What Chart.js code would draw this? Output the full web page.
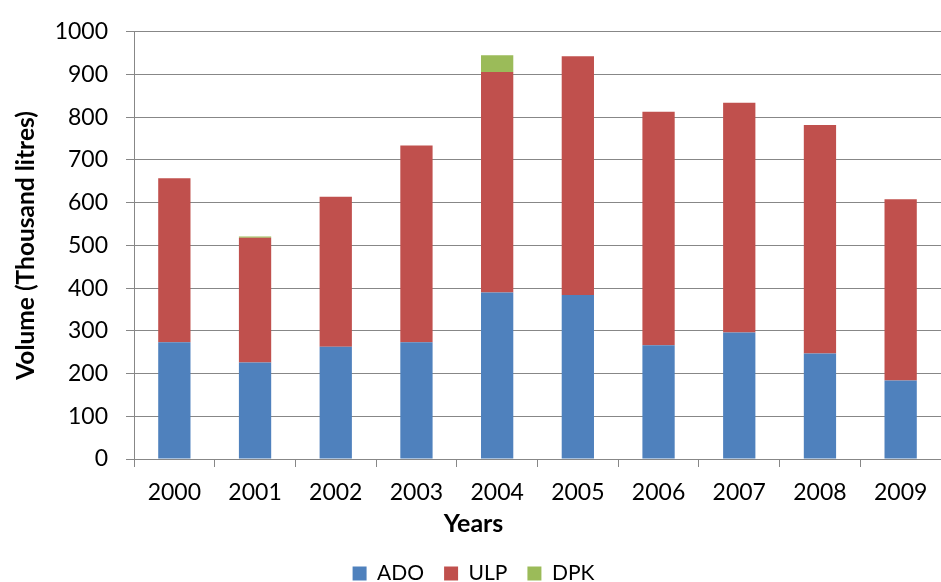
<!DOCTYPE html>
<html>
<head>
<meta charset="utf-8">
<script src="https://cdn.jsdelivr.net/npm/chart.js@4"></script>
<style>
  html, body { margin: 0; padding: 0; background: #ffffff; overflow: hidden; }
  #wrap { width: 941px; height: 582px; }
</style>
</head>
<body>
<div id="wrap"><canvas id="fuelChart" width="941" height="582"></canvas></div>
<script>
// Fuel sales volume by product type (thousand litres)
const years = ['2000', '2001', '2002', '2003', '2004', '2005', '2006', '2007', '2008', '2009'];
const ado = [273, 226, 263, 273, 390, 384, 266, 296, 247, 184];
const ulp = [384, 292, 351, 461, 516, 559, 547, 538, 535, 424];
const dpk = [0, 3, 0, 0, 39, 0, 0, 0, 0, 0];
const seriesNames = ['ADO', 'ULP', 'DPK'];
const seriesColors = ['#4F81BD', '#C0504D', '#9BBB59'];
const yMin = 0, yMax = 1000, yStep = 100;

const FONT = 'Lato, "Liberation Sans", sans-serif';
const AXIS_GREY = '#878787';

const datasets = [ado, ulp, dpk].map((values, i) => ({
  label: seriesNames[i],
  data: values,
  backgroundColor: seriesColors[i],
  borderWidth: 0,
  barPercentage: 0.4,
  categoryPercentage: 1.0
}));

new Chart(document.getElementById('fuelChart'), {
  type: 'bar',
  data: { labels: years, datasets },
  options: {
    responsive: false,
    animation: false,
    devicePixelRatio: 1,
    layout: { padding: { top: 18, right: -6, bottom: -12, left: 0 } },
    scales: {
      x: {
        stacked: true,
        grid: { drawOnChartArea: false, drawTicks: true, tickLength: 8, color: AXIS_GREY, offset: true },
        border: { display: true, color: AXIS_GREY, width: 1 },
        ticks: { color: '#000', font: { family: FONT, size: 23 }, padding: 12 },
        afterFit: (scale) => { scale.height = 49; }
      },
      y: {
        stacked: true,
        min: yMin,
        max: yMax,
        ticks: {
          stepSize: yStep,
          color: '#000',
          font: { family: FONT, size: 23 },
          padding: 18,
          callback: (v) => String(v)
        },
        grid: { color: AXIS_GREY, lineWidth: 1, tickLength: 8 },
        border: { display: true, color: AXIS_GREY, width: 1 },
        title: {
          display: true,
          text: 'Volume (Thousand litres)',
          color: '#000',
          font: { family: FONT, size: 24.5, weight: 'bold' },
          padding: { top: 11, bottom: 0 }
        },
        afterFit: (scale) => { scale.width = 134; }
      }
    },
    plugins: {
      title: {
        display: true,
        text: 'Years',
        position: 'bottom',
        weight: 500,
        color: '#000',
        font: { family: FONT, size: 25, weight: 'bold' },
        padding: { top: 1, bottom: 4 }
      },
      legend: {
        position: 'bottom',
        labels: {
          boxWidth: 14,
          boxHeight: 14,
          padding: 20,
          color: '#000',
          font: { family: FONT, size: 21 }
        }
      },
      tooltip: { enabled: false }
    }
  }
});
</script>
</body>
</html>
